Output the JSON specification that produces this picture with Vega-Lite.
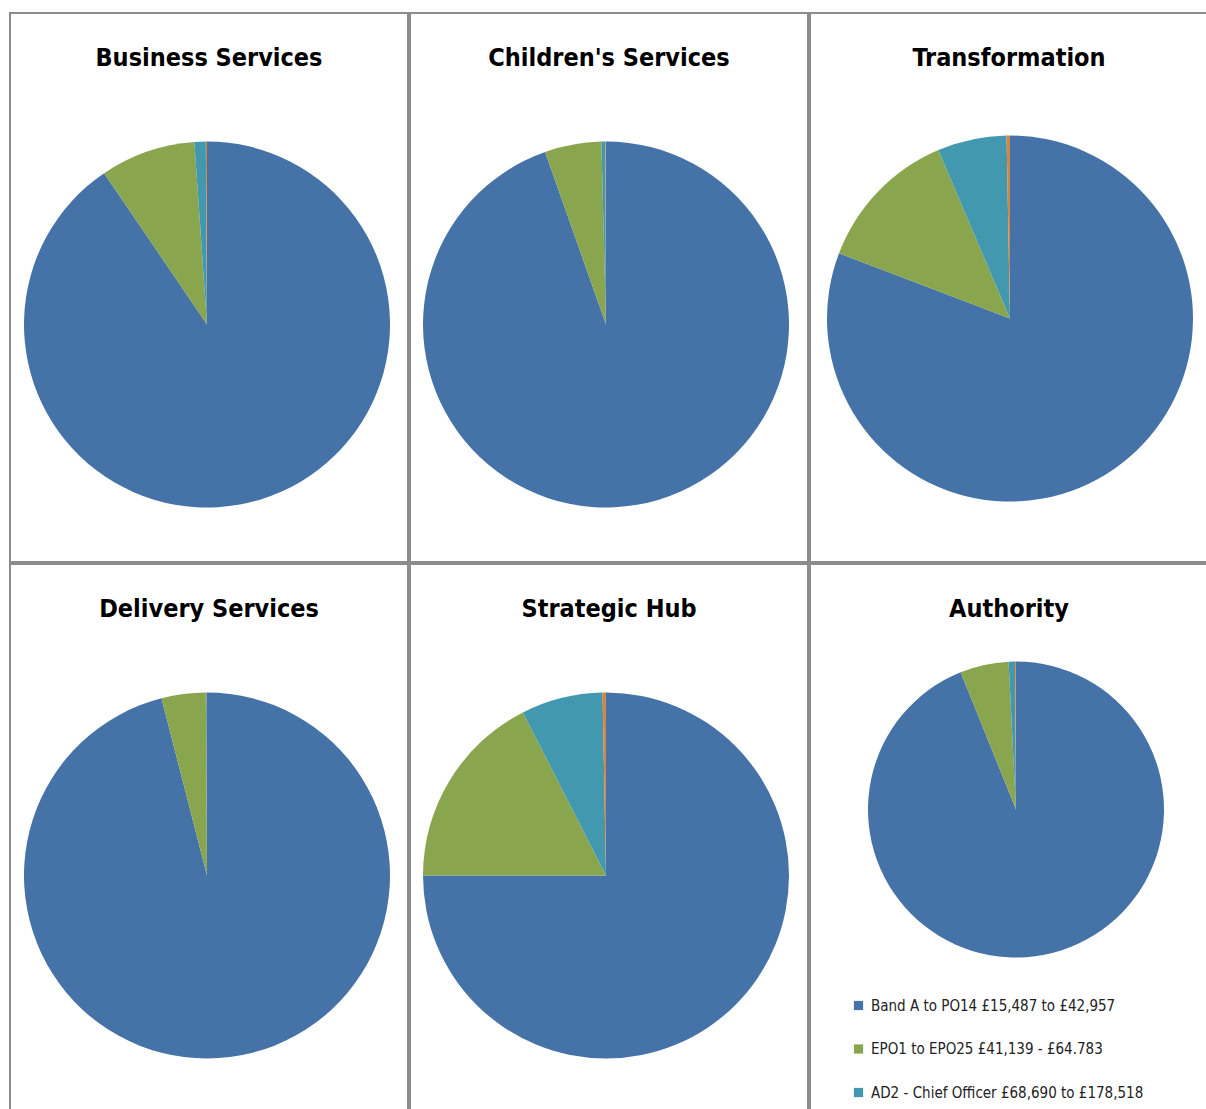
{
  "$schema": "https://vega.github.io/schema/vega-lite/v6.json",
  "background": "white",
  "padding": {"left": 9, "top": 12, "right": 0, "bottom": 0},
  "datasets": {
    "pies": [
      {"panel": "Business Services", "band": "Band A to PO14 £15,487 to £42,957", "value": 90.5, "order": 1},
      {"panel": "Business Services", "band": "EPO1 to EPO25 £41,139 - £64.783", "value": 8.4, "order": 2},
      {"panel": "Business Services", "band": "AD2 - Chief Officer £68,690 to £178,518", "value": 1.0, "order": 3},
      {"panel": "Business Services", "band": "Other", "value": 0.1, "order": 4},
      {"panel": "Children's Services", "band": "Band A to PO14 £15,487 to £42,957", "value": 94.6, "order": 1},
      {"panel": "Children's Services", "band": "EPO1 to EPO25 £41,139 - £64.783", "value": 5.0, "order": 2},
      {"panel": "Children's Services", "band": "AD2 - Chief Officer £68,690 to £178,518", "value": 0.35, "order": 3},
      {"panel": "Children's Services", "band": "Other", "value": 0.05, "order": 4},
      {"panel": "Transformation", "band": "Band A to PO14 £15,487 to £42,957", "value": 80.8, "order": 1},
      {"panel": "Transformation", "band": "EPO1 to EPO25 £41,139 - £64.783", "value": 12.8, "order": 2},
      {"panel": "Transformation", "band": "AD2 - Chief Officer £68,690 to £178,518", "value": 6.1, "order": 3},
      {"panel": "Transformation", "band": "Other", "value": 0.3, "order": 4},
      {"panel": "Delivery Services", "band": "Band A to PO14 £15,487 to £42,957", "value": 96.0, "order": 1},
      {"panel": "Delivery Services", "band": "EPO1 to EPO25 £41,139 - £64.783", "value": 3.9, "order": 2},
      {"panel": "Delivery Services", "band": "AD2 - Chief Officer £68,690 to £178,518", "value": 0.08, "order": 3},
      {"panel": "Delivery Services", "band": "Other", "value": 0.02, "order": 4},
      {"panel": "Strategic Hub", "band": "Band A to PO14 £15,487 to £42,957", "value": 75.0, "order": 1},
      {"panel": "Strategic Hub", "band": "EPO1 to EPO25 £41,139 - £64.783", "value": 17.5, "order": 2},
      {"panel": "Strategic Hub", "band": "AD2 - Chief Officer £68,690 to £178,518", "value": 7.2, "order": 3},
      {"panel": "Strategic Hub", "band": "Other", "value": 0.3, "order": 4},
      {"panel": "Authority", "band": "Band A to PO14 £15,487 to £42,957", "value": 93.9, "order": 1},
      {"panel": "Authority", "band": "EPO1 to EPO25 £41,139 - £64.783", "value": 5.3, "order": 2},
      {"panel": "Authority", "band": "AD2 - Chief Officer £68,690 to £178,518", "value": 0.7, "order": 3},
      {"panel": "Authority", "band": "Other", "value": 0.1, "order": 4}
    ]
  },
  "columns": 3,
  "spacing": 0,
  "resolve": {"legend": {"color": "independent"}},
  "concat": [
    {
      "width": 398, "height": 549,
      "view": {"stroke": "#8c8c8c", "strokeWidth": 2},
      "title": {"text": "Business Services"},
      "data": {"name": "pies"},
      "transform": [{"filter": "datum.panel == 'Business Services'"}],
      "mark": {"type": "arc", "outerRadius": 183, "yOffset": 37, "xOffset": -2},
      "encoding": {
        "theta": {"field": "value", "type": "quantitative", "stack": true},
        "order": {"field": "order", "type": "quantitative"},
        "color": {"field": "band", "type": "nominal", "scale": {"domain": ["Band A to PO14 £15,487 to £42,957", "EPO1 to EPO25 £41,139 - £64.783", "AD2 - Chief Officer £68,690 to £178,518", "Other"], "range": ["#4572A7", "#89A54E", "#4198AF", "#DB843D"]}, "legend": null}
      }
    },
    {
      "width": 398, "height": 549,
      "view": {"stroke": "#8c8c8c", "strokeWidth": 2},
      "title": {"text": "Children's Services"},
      "data": {"name": "pies"},
      "transform": [{"filter": "datum.panel == \"Children's Services\""}],
      "mark": {"type": "arc", "outerRadius": 183, "yOffset": 37, "xOffset": -3},
      "encoding": {
        "theta": {"field": "value", "type": "quantitative", "stack": true},
        "order": {"field": "order", "type": "quantitative"},
        "color": {"field": "band", "type": "nominal", "scale": {"domain": ["Band A to PO14 £15,487 to £42,957", "EPO1 to EPO25 £41,139 - £64.783", "AD2 - Chief Officer £68,690 to £178,518", "Other"], "range": ["#4572A7", "#89A54E", "#4198AF", "#DB843D"]}, "legend": null}
      }
    },
    {
      "width": 398, "height": 549,
      "view": {"stroke": "#8c8c8c", "strokeWidth": 2},
      "title": {"text": "Transformation"},
      "data": {"name": "pies"},
      "transform": [{"filter": "datum.panel == 'Transformation'"}],
      "mark": {"type": "arc", "outerRadius": 183, "yOffset": 31, "xOffset": 1},
      "encoding": {
        "theta": {"field": "value", "type": "quantitative", "stack": true},
        "order": {"field": "order", "type": "quantitative"},
        "color": {"field": "band", "type": "nominal", "scale": {"domain": ["Band A to PO14 £15,487 to £42,957", "EPO1 to EPO25 £41,139 - £64.783", "AD2 - Chief Officer £68,690 to £178,518", "Other"], "range": ["#4572A7", "#89A54E", "#4198AF", "#DB843D"]}, "legend": null}
      }
    },
    {
      "width": 398, "height": 549,
      "view": {"stroke": "#8c8c8c", "strokeWidth": 2},
      "title": {"text": "Delivery Services"},
      "data": {"name": "pies"},
      "transform": [{"filter": "datum.panel == 'Delivery Services'"}],
      "mark": {"type": "arc", "outerRadius": 183, "yOffset": 37, "xOffset": -2},
      "encoding": {
        "theta": {"field": "value", "type": "quantitative", "stack": true},
        "order": {"field": "order", "type": "quantitative"},
        "color": {"field": "band", "type": "nominal", "scale": {"domain": ["Band A to PO14 £15,487 to £42,957", "EPO1 to EPO25 £41,139 - £64.783", "AD2 - Chief Officer £68,690 to £178,518", "Other"], "range": ["#4572A7", "#89A54E", "#4198AF", "#DB843D"]}, "legend": null}
      }
    },
    {
      "width": 398, "height": 549,
      "view": {"stroke": "#8c8c8c", "strokeWidth": 2},
      "title": {"text": "Strategic Hub"},
      "data": {"name": "pies"},
      "transform": [{"filter": "datum.panel == 'Strategic Hub'"}],
      "mark": {"type": "arc", "outerRadius": 183, "yOffset": 37, "xOffset": -3},
      "encoding": {
        "theta": {"field": "value", "type": "quantitative", "stack": true},
        "order": {"field": "order", "type": "quantitative"},
        "color": {"field": "band", "type": "nominal", "scale": {"domain": ["Band A to PO14 £15,487 to £42,957", "EPO1 to EPO25 £41,139 - £64.783", "AD2 - Chief Officer £68,690 to £178,518", "Other"], "range": ["#4572A7", "#89A54E", "#4198AF", "#DB843D"]}, "legend": null}
      }
    },
    {
      "width": 398, "height": 549,
      "view": {"stroke": "#8c8c8c", "strokeWidth": 2},
      "title": {"text": "Authority"},
      "data": {"name": "pies"},
      "transform": [{"filter": "datum.panel == 'Authority'"}],
      "mark": {"type": "arc", "outerRadius": 148, "yOffset": -29, "xOffset": 7},
      "encoding": {
        "theta": {"field": "value", "type": "quantitative", "stack": true},
        "order": {"field": "order", "type": "quantitative"},
        "color": {
          "field": "band", "type": "nominal",
          "scale": {"domain": ["Band A to PO14 £15,487 to £42,957", "EPO1 to EPO25 £41,139 - £64.783", "AD2 - Chief Officer £68,690 to £178,518", "Other"], "range": ["#4572A7", "#89A54E", "#4198AF", "#DB843D"]},
          "legend": {"orient": "none", "legendX": 41, "legendY": 434, "title": null, "values": ["Band A to PO14 £15,487 to £42,957", "EPO1 to EPO25 £41,139 - £64.783", "AD2 - Chief Officer £68,690 to £178,518"], "symbolType": "square", "symbolSize": 85, "symbolStrokeWidth": 0, "labelFont": "DejaVu Sans Condensed, Liberation Sans Narrow, Liberation Sans, sans-serif", "labelFontSize": 15, "labelColor": "#222222", "labelLimit": 400, "rowPadding": 27.5, "labelOffset": 5}
        }
      }
    }
  ],
  "config": {
    "view": {"stroke": "#8c8c8c", "strokeWidth": 2},
    "title": {"font": "DejaVu Sans Condensed, Liberation Sans Narrow, Liberation Sans, sans-serif", "fontSize": 25, "fontWeight": "bold", "color": "#000000", "anchor": "middle", "offset": -58}
  }
}
